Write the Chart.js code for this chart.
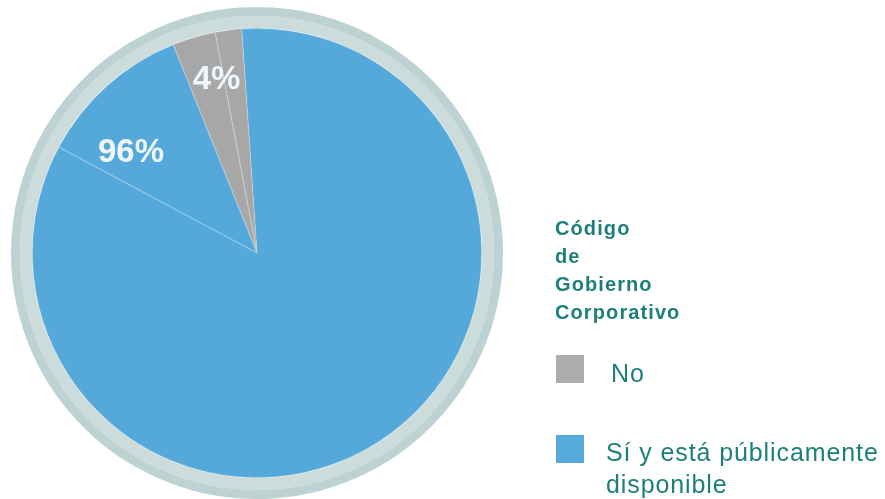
<!DOCTYPE html>
<html>
<head>
<meta charset="utf-8">
<script src="https://cdn.jsdelivr.net/npm/chart.js@4.4.1/dist/chart.umd.min.js"></script>
<style>
  body { margin: 0; background: #fff; font-family: "Liberation Sans", Arial, sans-serif; }
  #wrap { position: relative; width: 885px; height: 499px; }
  #chart { position: absolute; left: 0; top: 0; }
  .legend-title { position: absolute; left: 555px; top: 214px; color: #1d7f7c; font-weight: bold; font-size: 20px; letter-spacing: 1.1px; line-height: 28px; }
  .legend-item { position: absolute; left: 556px; color: #1d7f7c; font-size: 25px; letter-spacing: 0.9px; line-height: 32px; }
  .legend-item .box { position: absolute; left: 0; top: 0; width: 28px; height: 28px; }
  .legend-item .txt { position: absolute; white-space: nowrap; }
</style>
</head>
<body>
<div id="wrap">
  <canvas id="chart" width="885" height="499"></canvas>
  <div class="legend-title" id="legendTitle"></div>
  <div id="legend"></div>
</div>
<script>
// Slices, clockwise from the top edge of the blue slice
var segmentCategories = ['Sí y está públicamente disponible', 'Sí y está públicamente disponible', 'No', 'No'];
var segmentValues = [83.9, 11.1, 3.1, 1.9];
var segmentLabels = ['', '96%', '4%', ''];
// where the label sits: fraction along the arc, fraction of the radius
var labelAlong = [0.5, 0.27, 0.8, 0.5];
var labelRadius = [0.6, 0.72, 0.8, 0.6];

var legendTitle = ['Código', 'de', 'Gobierno', 'Corporativo'];
var legendLabels = ['No', 'Sí y está públicamente disponible'];

var colors = {
    'No': '#a7a7a7',
    'Sí y está públicamente disponible': '#55a8da'
};
var legendColors = ['#adadad', '#56aadc'];

// Draws the percentage texts on the slices
var sliceLabels = {
    id: 'sliceLabels',
    afterDatasetsDraw: function (chart) {
        var meta = chart.getDatasetMeta(2);
        var ctx = chart.ctx;
        ctx.save();
        ctx.fillStyle = '#eef6fb';
        ctx.font = 'bold 33px "Liberation Sans", Arial, sans-serif';
        ctx.textAlign = 'center';
        ctx.textBaseline = 'middle';
        meta.data.forEach(function (arc, i) {
            if (!segmentLabels[i]) return;
            var a = arc.startAngle + (arc.endAngle - arc.startAngle) * labelAlong[i];
            var r = arc.outerRadius * labelRadius[i];
            ctx.fillText(segmentLabels[i], arc.x + Math.cos(a) * r, arc.y + Math.sin(a) * r + 2);
        });
        ctx.restore();
    }
};

var ctx = document.getElementById('chart').getContext('2d');
var chart = new Chart(ctx, {
    type: 'doughnut',
    data: {
        labels: segmentCategories,
        datasets: [{
            data: [1],
            backgroundColor: ['#bdd3d3'],
            borderWidth: 0,
            weight: 9
        }, {
            data: [1],
            backgroundColor: ['#ccdcdb'],
            borderWidth: 0,
            weight: 12
        }, {
            data: segmentValues,
            backgroundColor: segmentCategories.map(c => colors[c]),
            borderColor: 'rgba(255,255,255,0.22)',
            borderWidth: 0.7,
            borderAlign: 'inner',
            weight: 225
        }]
    },
    options: {
        responsive: false,
        animation: false,
        cutout: 0,
        rotation: -3.9,
        layout: { padding: { left: 11, right: 382, top: 7, bottom: 0 } },
        plugins: {
            legend: { display: false },
            tooltip: { enabled: false }
        }
    },
    plugins: [sliceLabels]
});

// Legend on the right
document.getElementById('legendTitle').innerHTML = legendTitle.join('<br>');
var legendTops = [355, 435];
var textLefts = [55, 50];
var html = '';
legendLabels.forEach(function (label, i) {
    var words = label === 'No' ? label : 'Sí y está públicamente<br>disponible';
    html += '<div class="legend-item" style="top:' + legendTops[i] + 'px">' +
        '<div class="box" style="background:' + legendColors[i] + '"></div>' +
        '<div class="txt" style="left:' + textLefts[i] + 'px;top:' + (i === 0 ? 2 : 1) + 'px">' + words + '</div></div>';
});
document.getElementById('legend').innerHTML = html;
</script>
</body>
</html>
